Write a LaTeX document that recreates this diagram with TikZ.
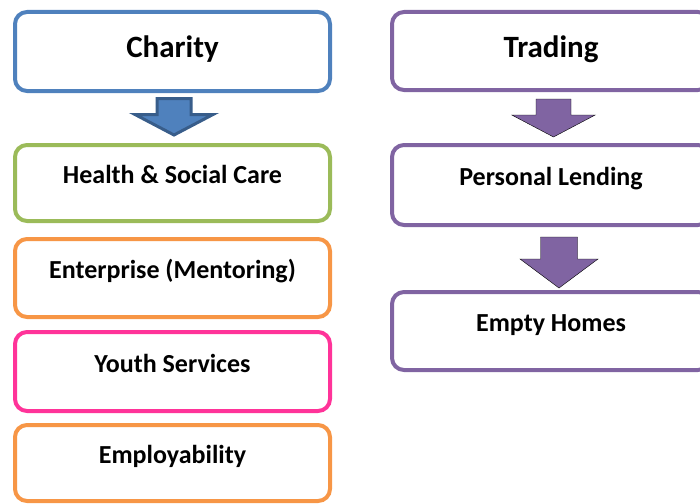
\documentclass[tikz,border=0pt]{standalone}
\usepackage{fontspec}
\setmainfont{Carlito}
\usepackage{tikz}
\definecolor{charityblue}{RGB}{79,129,189}
\definecolor{darkblue}{RGB}{56,93,138}
\definecolor{healthgreen}{RGB}{155,187,89}
\definecolor{orange}{RGB}{247,150,70}
\definecolor{pink}{RGB}{255,51,153}
\definecolor{purple}{RGB}{128,100,162}
\usetikzlibrary{positioning}
\tikzset{%
  unit/.style={draw, rectangle, rounded corners=12pt, line width=4pt, fill=white,
    minimum width=315pt, font=\fontsize{26}{30}\selectfont\bfseries,
    text height=17pt, text depth=15.5pt},% service box
  head/.style={unit, font=\fontsize{31}{36}\selectfont\bfseries,
    text height=21pt, text depth=10pt},% top box
  blockarrow/.style={fill=purple}% down arrow between boxes
}
% x, top, shoulder, tip, half shaft, half head
\newcommand*{\fatarrow}[7][blockarrow]{
  \draw[#1] (#2-#6,#3) -- (#2+#6,#3) -- (#2+#6,#4) -- (#2+#7,#4) -- (#2,#5)
    -- (#2-#7,#4) -- (#2-#6,#4) -- cycle;}

\begin{document}
\begin{tikzpicture}[x=1pt,y=-1pt]
\useasboundingbox (0,0) rectangle (700,503);
\clip (0,0) rectangle (700,503);

\node[head, draw=charityblue, minimum height=79pt] (charity) at (172.5,51.5) {Charity};
\node[unit, draw=healthgreen, minimum height=76pt] (health) at (172.5,183) {Health \& Social Care};
\node[unit, draw=orange, minimum height=78pt] (enterprise) at (172.5,278) {Enterprise (Mentoring)};
\node[unit, draw=pink, minimum height=79pt] (youth) at (172.5,371.5) {Youth Services};
\node[unit, draw=orange, minimum height=76pt] (employ) at (172.5,463) {Employability};

\node[head, draw=purple, minimum width=318pt, minimum height=78pt, text depth=9pt] (trading) at (551,51) {Trading};
\node[unit, draw=purple, minimum width=318pt, minimum height=80pt] (lending) at (551,185) {Personal Lending};
\node[unit, draw=purple, minimum width=318pt, minimum height=78pt] (homes) at (551,331) {Empty Homes};

\fatarrow[fill=charityblue, draw=darkblue, line width=3pt]{174}{98.5}{114.5}{135}{17}{39}
\fatarrow{553.5}{99}{115}{137}{17.5}{41.7}
\fatarrow{559}{237}{259}{288}{18.5}{39}

\end{tikzpicture}
\end{document}
